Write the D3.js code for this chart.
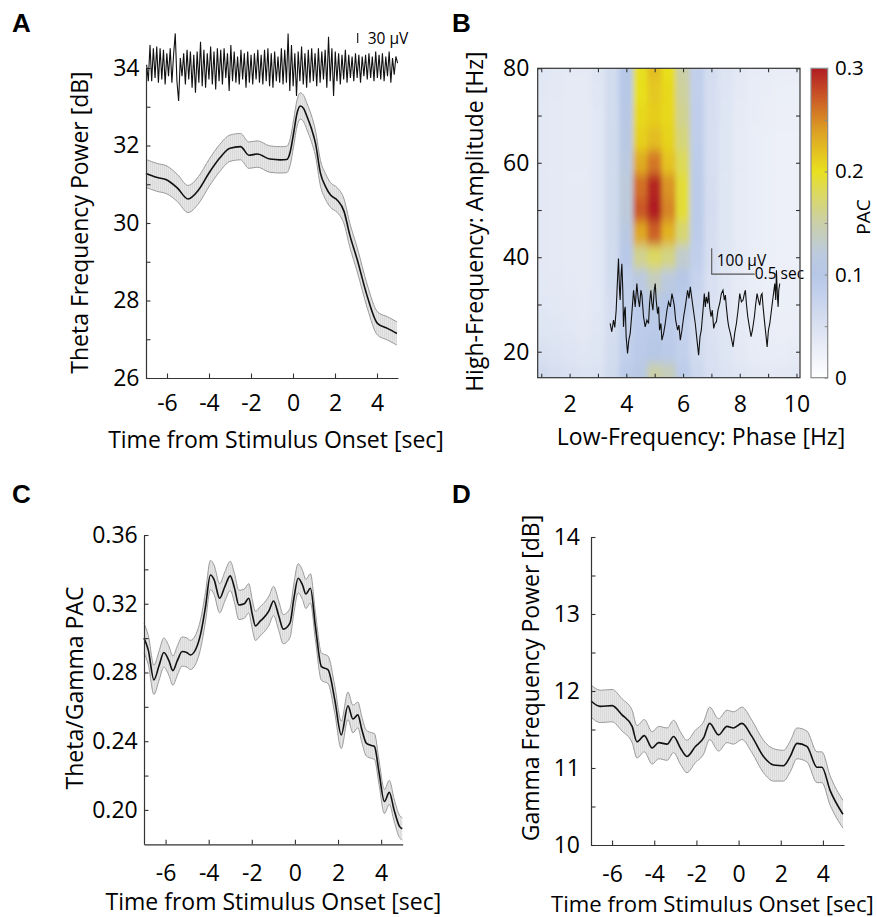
<!DOCTYPE html>
<html><head><meta charset="utf-8">
<script src="https://cdn.jsdelivr.net/npm/d3@7"></script>
<style>
body{margin:0;background:#fff;}
svg{display:block;}
</style></head><body>
<svg id="chart" width="877" height="917"></svg>
<script>
// ================= DATA =================
// Panel A: theta power (dB) vs time
const timeA = [-7,-6.5,-6,-5.5,-5,-4.5,-4,-3.5,-3,-2.5,-2.1,-1.7,-1.1,-0.6,-0.3,-0.13,0.03,0.19,0.35,0.51,0.67,0.87,1.07,1.31,1.55,1.79,2.11,2.43,2.7,3.06,3.54,4.02,4.5,4.95];
const thetaPower = [31.28,31.18,31.11,30.9,30.62,30.85,31.29,31.67,31.93,31.97,31.75,31.78,31.65,31.63,31.64,31.84,32.32,32.83,33.02,32.95,32.74,32.45,32.06,31.28,30.94,30.72,30.59,30.3,29.7,29.05,28.1,27.41,27.28,27.15];
const thetaSem = [0.36,0.36,0.36,0.35,0.35,0.35,0.35,0.35,0.34,0.34,0.34,0.34,0.34,0.34,0.34,0.34,0.34,0.34,0.34,0.34,0.34,0.34,0.33,0.33,0.33,0.32,0.32,0.32,0.31,0.31,0.3,0.3,0.3,0.3];
// raw theta trace (µV), sampled evenly from traceAStart to traceAEnd
const traceAStart = -6.97, traceAEnd = 4.98;
const traceA = [10,-40,70,-40,60,-30,65,-45,60,-35,
  55,-50,45,-25,60,-45,40,105,-40,-100,
  30,-25,45,-50,55,-35,50,-60,40,-75,
  50,-45,80,-55,55,-60,45,-35,65,-50,
  50,-65,60,-40,55,-50,60,-30,45,-70,
  70,-40,50,-45,35,-50,55,-35,45,-60,
  50,-45,40,-50,45,-35,55,-45,40,-50,
  55,-40,60,-55,45,-60,50,-40,35,-45,
  60,-50,55,-45,105,-70,70,-55,45,-85,
  50,-40,65,-50,45,-60,55,-45,60,-40,
  45,-55,60,-45,50,-35,55,-60,95,-40,
  60,-85,50,-40,45,-50,40,-35,55,-45,
  40,-30,35,-40,45,-30,40,-45,35,-25,
  40,-35,45,-30,35,-40,50,-30,40,-35,
  45,-40,35,-25,50,-45,30,-20,35,15];
const traceAScaleUV = 30;

// Panel B: phase-amplitude comodulogram
const phaseFreqs = [1,1.5,2,2.5,3,3.5,4,4.5,5,5.5,6,6.5,7,7.5,8,8.5,9,9.5,10];
const ampFreqs = [80,75,70,65,60,55,50,45,40,35,30,25,20,15];
const pacMatrix = [
 [.040,.038,.036,.036,.042,.060,.100,.198,.222,.200,.150,.085,.058,.045,.038,.033,.030,.028,.028],
 [.039,.037,.035,.035,.041,.060,.100,.200,.215,.205,.155,.085,.056,.044,.036,.031,.028,.026,.026],
 [.038,.036,.035,.035,.040,.060,.105,.205,.212,.205,.160,.086,.055,.043,.035,.030,.027,.025,.025],
 [.037,.036,.035,.035,.040,.061,.110,.210,.222,.208,.168,.087,.055,.042,.034,.029,.026,.024,.024],
 [.037,.036,.035,.035,.040,.062,.118,.232,.258,.218,.182,.090,.055,.042,.034,.029,.026,.024,.024],
 [.037,.036,.035,.035,.040,.062,.122,.262,.295,.245,.192,.092,.056,.042,.034,.029,.026,.024,.024],
 [.037,.036,.035,.035,.040,.062,.122,.272,.300,.252,.192,.093,.057,.042,.034,.029,.026,.024,.024],
 [.037,.036,.035,.035,.040,.061,.112,.235,.268,.228,.172,.090,.056,.042,.034,.029,.026,.024,.024],
 [.037,.036,.035,.035,.040,.060,.098,.160,.178,.165,.130,.085,.055,.042,.034,.029,.026,.024,.024],
 [.038,.037,.036,.035,.040,.058,.085,.115,.138,.120,.100,.076,.052,.041,.034,.029,.026,.025,.025],
 [.040,.038,.037,.036,.040,.056,.080,.095,.112,.100,.088,.068,.050,.041,.034,.030,.027,.026,.026],
 [.043,.041,.039,.037,.041,.056,.078,.090,.095,.090,.080,.062,.049,.041,.035,.031,.028,.027,.028],
 [.050,.047,.044,.041,.043,.058,.082,.095,.100,.095,.082,.062,.050,.043,.037,.033,.031,.031,.033],
 [.060,.055,.050,.046,.047,.062,.090,.110,.150,.140,.090,.066,.053,.046,.041,.038,.036,.037,.040]
];
const pacColorStops = [0,0.02,0.05,0.08,0.1,0.12,0.15,0.18,0.2,0.22,0.24,0.26,0.28,0.3];
const pacColors = ["#ffffff","#f0f2f9","#d9e1f1","#c4d1ec","#b6c7e7","#bccadf","#cacfa8","#dcd95e","#e8e01e","#e4c020","#dc9e24","#d27426","#c44626","#b01c22"];
// raw trace inset in B (time in s, amplitude in µV)
const traceBTime = [0,0.019,0.039,0.054,0.07,0.085,0.097,0.109,0.116,0.128,0.136,0.147,0.155,0.167,0.175,0.186,0.202,0.217,0.233,0.252,0.272,0.291,0.31,0.326,0.341,0.357,0.369,0.388,0.407,0.427,0.446,0.458,0.473,0.485,0.497,0.512,0.524,0.535,0.551,0.563,0.574,0.59,0.601,0.621,0.64,0.66,0.679,0.699,0.718,0.73,0.745,0.761,0.784,0.799,0.815,0.834,0.854,0.873,0.9,0.916,0.931,0.947,0.962,0.978,0.989,1.009,1.028,1.044,1.059,1.079,1.094,1.106,1.117,1.133,1.145,1.156,1.172,1.187,1.203,1.218,1.234,1.253,1.273,1.292,1.311,1.327,1.339,1.35,1.366,1.378,1.397,1.413,1.428,1.447,1.467,1.486,1.506,1.525,1.544,1.56,1.571,1.583,1.599,1.618,1.637,1.653,1.676,1.692,1.707,1.723,1.738,1.754,1.765,1.777,1.792,1.808,1.824,1.839,1.855,1.874,1.893,1.913,1.924,1.932,1.944,1.952,1.959,1.971];
const traceBUV = [-64,-96,-51,-79,-13,102,186,64,26,128,166,64,-77,-13,0,-115,-179,-128,-102,-26,64,0,90,32,0,64,45,-38,-77,-51,-64,13,64,13,-13,64,90,26,-26,0,-90,-64,-128,-102,-64,-13,19,0,51,32,6,-51,-90,-70,-128,-90,-38,0,64,32,77,38,0,-38,-64,-128,-186,-115,-90,-13,51,0,38,13,58,0,-38,-13,-83,-64,-58,-13,13,51,64,26,45,0,-51,-77,-102,-128,-154,-102,-64,-13,51,19,26,51,64,13,-38,-77,-115,-90,-38,13,51,26,6,45,51,0,-51,-102,-154,-90,-64,-13,38,90,26,141,38,0,64,90];
const scaleBarUV = 100, scaleBarSec = 0.5;

// Panel C: theta/gamma PAC vs time
const timeC = [-7,-6.8,-6.54,-6.3,-6.08,-5.85,-5.66,-5.45,-5.23,-5.0,-4.85,-4.6,-4.38,-4.15,-3.92,-3.75,-3.49,-3.25,-3.0,-2.8,-2.6,-2.35,-2.14,-1.98,-1.83,-1.6,-1.46,-1.2,-0.99,-0.75,-0.54,-0.23,-0.05,0.15,0.35,0.51,0.72,0.95,1.23,1.54,1.85,2.15,2.46,2.69,2.92,3.1,3.31,3.55,3.69,3.9,4.15,4.38,4.6,4.85,4.98];
const pacC = [0.300,0.293,0.2757,0.284,0.2916,0.287,0.2811,0.287,0.2922,0.2915,0.2902,0.2935,0.302,0.318,0.3367,0.334,0.3232,0.330,0.3362,0.329,0.3193,0.320,0.3232,0.314,0.3071,0.310,0.3116,0.316,0.3216,0.313,0.3052,0.3087,0.323,0.3348,0.331,0.3257,0.329,0.307,0.2834,0.2815,0.2641,0.2437,0.2606,0.2529,0.2553,0.247,0.2389,0.2375,0.2369,0.222,0.2049,0.2102,0.200,0.1904,0.189];
const semC = [0.0085,0.0085,0.0085,0.0085,0.0085,0.0085,0.0085,0.0085,0.0085,0.0085,0.0085,0.0085,0.0085,0.0085,0.0085,0.0085,0.0085,0.0085,0.0085,0.0085,0.0085,0.0085,0.0085,0.0085,0.0085,0.0085,0.0085,0.0085,0.0085,0.0085,0.0085,0.0085,0.0085,0.0085,0.0085,0.0085,0.0085,0.008,0.008,0.008,0.008,0.008,0.008,0.008,0.0075,0.0075,0.0075,0.0075,0.0075,0.007,0.007,0.007,0.0065,0.0065,0.0065];

// Panel D: gamma power (dB) vs time
const timeD = [-7,-6.56,-6.0,-5.53,-5.05,-4.82,-4.47,-4.1,-3.79,-3.39,-3.08,-2.76,-2.45,-2.05,-1.66,-1.37,-0.95,-0.55,-0.24,0.16,0.63,1.18,1.66,2.13,2.45,2.77,3.24,3.72,3.95,4.34,4.95];
const gammaD = [11.87,11.80,11.81,11.69,11.54,11.34,11.42,11.26,11.33,11.31,11.41,11.26,11.15,11.28,11.39,11.58,11.43,11.54,11.52,11.58,11.41,11.15,11.04,11.03,11.15,11.32,11.28,11.01,11.01,10.71,10.40];
const semD = [0.21,0.21,0.21,0.21,0.21,0.21,0.21,0.21,0.21,0.21,0.21,0.21,0.21,0.21,0.21,0.21,0.21,0.21,0.21,0.21,0.21,0.21,0.21,0.2,0.2,0.2,0.2,0.2,0.2,0.19,0.18];

// Axis ticks / labels
const timeDomain = [-7, 5];
const timeTicks = [-6,-4,-2,0,2,4];
const timeTickLabels = ["-6","-4","-2","0","2","4"];
const aYTicks = [26,28,30,32,34], aYTickLabels = ["26","28","30","32","34"], aYMinor = [27,29,31,33];
const cYTicks = [0.20,0.24,0.28,0.32,0.36], cYTickLabels = ["0.20","0.24","0.28","0.32","0.36"], cYMinor = [0.22,0.26,0.30,0.34];
const dYTicks = [10,11,12,13,14], dYTickLabels = ["10","11","12","13","14"], dYMinor = [10.5,11.5,12.5,13.5];
const bXTicks = [2,4,6,8,10], bXTickLabels = ["2","4","6","8","10"], bXMinor = [1,3,5,7,9];
const bYTicks = [20,40,60,80], bYTickLabels = ["20","40","60","80"], bYMinor = [30,50,70];
const cbTicks = [0,0.1,0.2,0.3], cbTickLabels = ["0","0.1","0.2","0.3"], cbMinor = [0.05,0.15,0.25];

// ================= DRAWING =================
const FONT = "'Open Sans', sans-serif";
const AX = "#333";
const W = 877;
const svg = d3.select("#chart");
const defs = svg.append("defs");

function styleAxis(g, fs, col){
  g.attr("font-family", FONT).attr("font-size", fs);
  g.select(".domain").attr("stroke", col || AX).attr("stroke-width", 1.2);
  g.selectAll(".tick line").attr("stroke", col || AX).attr("stroke-width", 1.1);
  g.selectAll(".tick text").attr("fill", "#000");
}
function addAxis(parent, make, transform, major, labels, minor, tick, pad, fs, keepDomain, col){
  const g = parent.append("g").attr("transform", transform);
  g.call(make().tickValues(major).tickFormat((d,i)=>labels[i]).tickSize(tick).tickSizeOuter(0).tickPadding(pad));
  styleAxis(g, fs, col);
  if(!keepDomain) g.select(".domain").remove();
  if(minor){
    const m = parent.append("g").attr("transform", transform);
    m.call(make().tickValues(minor).tickFormat("").tickSize(tick).tickSizeOuter(0));
    styleAxis(m, fs, col);
    m.select(".domain").remove();
  }
  return g;
}
function label(text, x, y, fs, opts={}){
  const t = svg.append("text").text(text).attr("font-family", opts.font || FONT)
    .attr("font-size", fs).attr("fill", "#000")
    .attr("text-anchor", opts.anchor || "middle")
    .attr("font-weight", opts.weight || "normal");
  if(opts.rotate) t.attr("transform", `translate(${x},${y}) rotate(-90)`);
  else t.attr("x", x).attr("y", y);
  return t;
}

// hatch pattern for confidence bands
const pat = defs.append("pattern").attr("id","hatch").attr("patternUnits","userSpaceOnUse").attr("width",2).attr("height",4);
pat.append("rect").attr("width",2).attr("height",4).attr("fill","#e6e6e6");
pat.append("rect").attr("width",0.7).attr("height",4).attr("fill","#d6d6d6");

function timePanel(o){
  const x = d3.scaleLinear().domain(timeDomain).range([o.left, o.right]);
  const y = d3.scaleLinear().domain(o.yDomain).range([o.bottom, o.top]);
  const g = svg.append("g");
  const curve = d3.curveMonotoneX;
  const area = d3.area().x((d,i)=>x(o.t[i])).y0((d,i)=>y(d - o.s[i])).y1((d,i)=>y(d + o.s[i])).curve(curve);
  g.append("path").datum(o.v).attr("d", area).attr("fill", "url(#hatch)");
  const up = d3.line().x((d,i)=>x(o.t[i])).y((d,i)=>y(d + o.s[i])).curve(curve);
  const lo = d3.line().x((d,i)=>x(o.t[i])).y((d,i)=>y(d - o.s[i])).curve(curve);
  g.append("path").datum(o.v).attr("d", up).attr("fill","none").attr("stroke","#9a9a9a").attr("stroke-width",1);
  g.append("path").datum(o.v).attr("d", lo).attr("fill","none").attr("stroke","#9a9a9a").attr("stroke-width",1);
  const mean = d3.line().x((d,i)=>x(o.t[i])).y(d=>y(d)).curve(curve);
  g.append("path").datum(o.v).attr("d", mean).attr("fill","none").attr("stroke","#111").attr("stroke-width",1.6);
  addAxis(svg, ()=>d3.axisBottom(x), `translate(0,${o.bottom})`, timeTicks, timeTickLabels, null, -4.5, o.xPad, 23, true);
  addAxis(svg, ()=>d3.axisLeft(y), `translate(${o.left},0)`, o.yTicks, o.yLabels, o.yMinor, -4.5, o.yPad, 23, true);
  return {x, y};
}

// ---- Panel A ----
const A = timePanel({left:146, right:398, top:68, bottom:378, yDomain:[26,34],
  t:timeA, v:thetaPower, s:thetaSem, yTicks:aYTicks, yLabels:aYTickLabels, yMinor:aYMinor, xPad:17, yPad:6.5});
{
  const tx = d3.scaleLinear().domain([0, traceA.length-1]).range([A.x(traceAStart), A.x(traceAEnd)]);
  const ty = d3.scaleLinear().domain([-120, 120]).range([A.y(34 - 1.02), A.y(34 + 1.02)]);
  svg.append("path").datum(traceA)
    .attr("d", d3.line().x((d,i)=>tx(i)).y(d=>ty(d)))
    .attr("fill","none").attr("stroke","#111").attr("stroke-width",1.1);
  const bx = A.x(3.08), b0 = 76;
  svg.append("line").attr("x1",bx).attr("x2",bx).attr("y1",ty(b0)).attr("y2",ty(b0+traceAScaleUV))
    .attr("stroke","#222").attr("stroke-width",1.2);
  label("30 µV", bx+10, ty(b0)+1, 15.5, {anchor:"start"});
}
label("Time from Stimulus Onset [sec]", 276, 448, 23);
label("Theta Frequency Power [dB]", 88, 222.5, 23, {rotate:true});

// ---- Panel B ----
const xB = d3.scaleLinear().domain([0.875, 10.125]).range([537.7, 800]);
const yB = d3.scaleLinear().domain([14.5, 80]).range([377.7, 68.3]);
const color = d3.scaleLinear().domain(pacColorStops).range(pacColors).clamp(true);
defs.append("clipPath").attr("id","hmClip").append("rect")
  .attr("x", xB.range()[0]).attr("y", yB.range()[1])
  .attr("width", xB.range()[1]-xB.range()[0]).attr("height", yB.range()[0]-yB.range()[1]);
const blur = defs.append("filter").attr("id","soften").attr("x","-5%").attr("y","-5%").attr("width","110%").attr("height","110%");
blur.append("feGaussianBlur").attr("stdDeviation","2.5 5.5");
const cells = [];
ampFreqs.forEach((a,i)=>phaseFreqs.forEach((p,j)=>cells.push({p, a, v:pacMatrix[i][j]})));
const pStep = phaseFreqs[1]-phaseFreqs[0], aStep = ampFreqs[0]-ampFreqs[1];
const hm = svg.append("g").attr("clip-path","url(#hmClip)");
function drawCells(sel){
  sel.selectAll("rect").data(cells).join("rect")
    .attr("x", d=>xB(d.p - pStep/2)-0.3).attr("width", d=>xB(d.p + pStep/2)-xB(d.p - pStep/2)+0.6)
    .attr("y", d=>yB(d.a + aStep/2)-0.3).attr("height", d=>yB(d.a - aStep/2)-yB(d.a + aStep/2)+0.6)
    .attr("fill", d=>color(d.v));
}
drawCells(hm.append("g"));
drawCells(hm.append("g").attr("filter","url(#soften)"));

// inset trace
{
  const ix = d3.scaleLinear().domain([0, 2]).range([xB(3.43), xB(9.5)]);
  const iy = d3.scaleLinear().domain([0, 100]).range([yB(29.5), yB(35.0)]);
  svg.append("path").datum(traceBUV)
    .attr("d", d3.line().x((d,i)=>ix(traceBTime[i])).y(d=>iy(d)))
    .attr("fill","none").attr("stroke","#111").attr("stroke-width",1.1);
  const t0 = 1.18, u0 = 126;
  svg.append("path").attr("d", `M${ix(t0)},${iy(u0+scaleBarUV)}V${iy(u0)}H${ix(t0+scaleBarSec)}`)
    .attr("fill","none").attr("stroke","#555").attr("stroke-width",1.1);
  label("100 µV", ix(t0)+5, iy(u0)-8.5, 15.5, {anchor:"start"});
  label("0.5 sec", ix(t0+scaleBarSec), iy(u0)+5, 15.5, {anchor:"start"});
}
// box + ticks
svg.append("rect").attr("x", xB.range()[0]).attr("y", yB.range()[1])
  .attr("width", xB.range()[1]-xB.range()[0]).attr("height", yB.range()[0]-yB.range()[1])
  .attr("fill","none").attr("stroke",AX).attr("stroke-width",1.2);
addAxis(svg, ()=>d3.axisBottom(xB), `translate(0,${yB.range()[0]})`, bXTicks, bXTickLabels, bXMinor, -4, 18.3, 23, false);
addAxis(svg, ()=>d3.axisTop(xB), `translate(0,${yB.range()[1]})`, bXTicks, ["","","","",""], bXMinor, -4, 0, 23, false);
addAxis(svg, ()=>d3.axisLeft(yB), `translate(${xB.range()[0]},0)`, bYTicks, bYTickLabels, bYMinor, -4, 8.4, 23, false);
addAxis(svg, ()=>d3.axisRight(yB), `translate(${xB.range()[1]},0)`, bYTicks, ["","","",""], bYMinor, -4, 0, 23, false);
label("Low-Frequency: Phase [Hz]", 701, 445, 23);
label("High-Frequency: Amplitude [Hz]", 483, 221.7, 23, {rotate:true});

// colorbar
{
  const cb = d3.scaleLinear().domain([0, 0.3]).range([377.7, 68.3]);
  const grad = defs.append("linearGradient").attr("id","cbGrad").attr("x1",0).attr("y1",1).attr("x2",0).attr("y2",0);
  pacColorStops.forEach((s,i)=>grad.append("stop").attr("offset", s/0.3).attr("stop-color", pacColors[i]));
  const cx0 = 811, cx1 = 827.7;
  svg.append("rect").attr("x",cx0).attr("y",cb(0.3)).attr("width",cx1-cx0).attr("height",cb(0)-cb(0.3))
    .attr("fill","url(#cbGrad)").attr("stroke","#8a8a8a").attr("stroke-width",1.2);
  addAxis(svg, ()=>d3.axisRight(cb), `translate(${cx1},0)`, cbTicks, cbTickLabels, cbMinor, -3, 7.3, 20.5, false, "#8a8a8a");
  label("PAC", 870, 217, 19, {rotate:true});
}

// ---- Panel C ----
timePanel({left:144, right:402.7, top:535, bottom:844.3, yDomain:[0.18,0.36],
  t:timeC, v:pacC, s:semC, yTicks:cYTicks, yLabels:cYTickLabels, yMinor:cYMinor, xPad:20, yPad:6.3});
label("Time from Stimulus Onset [sec]", 273.4, 910, 23);
label("Theta/Gamma PAC", 83, 688, 23, {rotate:true});

// ---- Panel D ----
timePanel({left:591, right:844, top:537, bottom:845, yDomain:[10,14],
  t:timeD, v:gammaD, s:semD, yTicks:dYTicks, yLabels:dYTickLabels, yMinor:dYMinor, xPad:20.4, yPad:11});
{
  const t = label("Time from Stimulus Onset [sec]", 551, 912, 23, {anchor:"start"});
  const w = t.node().getComputedTextLength();
  const avail = W - 3 - 551;
  if (w > avail) t.attr("font-size", 23 * avail / w);
}
label("Gamma Frequency Power [dB]", 539, 678, 23, {rotate:true});

// panel letters
const letterFont = "'Liberation Sans', Arial, sans-serif";
label("A", 12, 32, 26, {anchor:"start", weight:"bold", font:letterFont});
label("B", 452, 32, 26, {anchor:"start", weight:"bold", font:letterFont});
label("C", 12, 503, 26, {anchor:"start", weight:"bold", font:letterFont});
label("D", 452, 503, 26, {anchor:"start", weight:"bold", font:letterFont});
</script>
</body></html>
